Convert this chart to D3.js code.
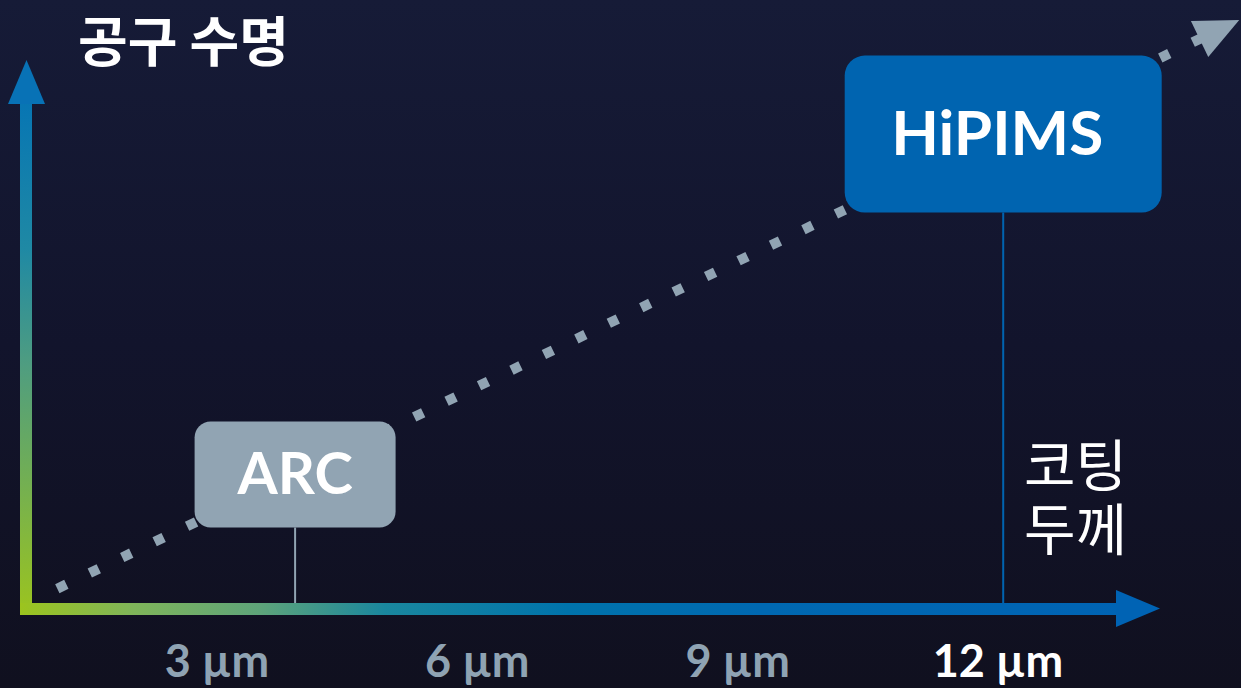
<!DOCTYPE html>
<html>
<head>
<meta charset="utf-8">
<script src="https://cdn.jsdelivr.net/npm/d3@7"></script>
<style>
  body { margin: 0; background: #11111f; }
  svg { display: block; }
</style>
</head>
<body>
<div id="chart"></div>
<script>
const width = 1241;
const height = 688;

// Axis ticks (coating thickness)
const tickValues = [3, 6, 9, 12];
const tickLabels = ["3 µm", "6 µm", "9 µm", "12 µm"];
const highlightTick = 12;

// Coating processes: thickness (µm) and relative tool life
const processNames = ["ARC", "HiPIMS"];
const processThickness = [3.9, 12.06];
const processLife = [24.5, 86.5];

// Dotted trend (start -> arrow tip)
const trendThickness = [1.16, 14.78];
const trendLife = [3.7, 107.3];

const svg = d3.select("#chart").append("svg")
  .attr("width", width)
  .attr("height", height);

const defs = svg.append("defs");

// background gradient
const bg = defs.append("linearGradient").attr("id", "bg")
  .attr("x1", 0).attr("y1", 0).attr("x2", 0).attr("y2", 1);
bg.append("stop").attr("offset", 0).attr("stop-color", "#161b37");
bg.append("stop").attr("offset", 0.5).attr("stop-color", "#12142c");
bg.append("stop").attr("offset", 1).attr("stop-color", "#10101f");

svg.append("rect").attr("width", width).attr("height", height).attr("fill", "url(#bg)");

// Scales
const x = d3.scaleLinear().domain([3, 12]).range([217, 998]);
const y = d3.scaleLinear().domain([0, 100]).range([609, 60]);

const axisX0 = 26;   // vertical axis position
const axisY0 = 609;  // horizontal axis position

// axis gradients (userSpaceOnUse)
const gv = defs.append("linearGradient").attr("id", "gv")
  .attr("gradientUnits", "userSpaceOnUse")
  .attr("x1", 0).attr("y1", 615).attr("x2", 0).attr("y2", 60);
[[0, "#9cc41e"], [0.45, "#4f9d80"], [0.66, "#1f89a4"], [1, "#0070b8"]]
  .forEach(s => gv.append("stop").attr("offset", s[0]).attr("stop-color", s[1]));

const gh = defs.append("linearGradient").attr("id", "gh")
  .attr("gradientUnits", "userSpaceOnUse")
  .attr("x1", 20).attr("y1", 0).attr("x2", 1160).attr("y2", 0);
[[0, "#9cc41e"], [0.1, "#7fb55a"], [0.21, "#5ea47a"], [0.32, "#1a879e"], [0.48, "#0073ab"], [0.65, "#0068b1"], [1, "#0063b4"]]
  .forEach(s => gh.append("stop").attr("offset", s[0]).attr("stop-color", s[1]));

// Dotted trend line with arrow
const p0 = [x(trendThickness[0]), y(trendLife[0])];
const p1 = [x(trendThickness[1]), y(trendLife[1])];
const ang = Math.atan2(p1[1] - p0[1], p1[0] - p0[0]);
const headLen = 44, headHalf = 20;
const base = [p1[0] - headLen * Math.cos(ang), p1[1] - headLen * Math.sin(ang)];

svg.append("line")
  .attr("x1", p0[0]).attr("y1", p0[1])
  .attr("x2", base[0] + 10 * Math.cos(ang)).attr("y2", base[1] + 10 * Math.sin(ang))
  .attr("stroke", "#91a4b3")
  .attr("stroke-width", 10)
  .attr("stroke-dasharray", "10 26");

svg.append("polygon")
  .attr("points", [
    p1,
    [base[0] - headHalf * Math.sin(ang), base[1] + headHalf * Math.cos(ang)],
    [base[0] + headHalf * Math.sin(ang), base[1] - headHalf * Math.cos(ang)]
  ].map(p => p.join(",")).join(" "))
  .attr("fill", "#91a4b3");

// Process boxes
const boxW = [201, 317], boxH = [106, 157], boxR = [16, 20];
const boxFill = ["#91a4b3", "#0064b0"];
const boxFont = [58, 62];
const textShift = [0, -6];

const procs = processNames.map((name, i) => ({
  name, t: processThickness[i], life: processLife[i],
  w: boxW[i], h: boxH[i], r: boxR[i], fill: boxFill[i], fs: boxFont[i], dx: textShift[i]
}));

const g = svg.append("g");

g.selectAll("line.stem")
  .data(procs)
  .join("line")
  .attr("class", "stem")
  .attr("x1", d => x(d.t)).attr("x2", d => x(d.t))
  .attr("y1", d => y(d.life) + d.h / 2)
  .attr("y2", axisY0 - 6)
  .attr("stroke", d => d.fill)
  .attr("stroke-width", 2);

g.selectAll("rect.box")
  .data(procs)
  .join("rect")
  .attr("class", "box")
  .attr("x", d => x(d.t) - d.w / 2)
  .attr("y", d => y(d.life) - d.h / 2)
  .attr("width", d => d.w)
  .attr("height", d => d.h)
  .attr("rx", d => d.r)
  .attr("fill", d => d.fill);

g.selectAll("text.name")
  .data(procs)
  .join("text")
  .attr("class", "name")
  .attr("x", d => x(d.t) + d.dx)
  .attr("y", d => y(d.life) + d.fs * 0.33)
  .attr("text-anchor", "middle")
  .attr("font-family", "Lato, 'Open Sans', sans-serif")
  .attr("font-weight", 700)
  .attr("font-size", d => d.fs)
  .attr("fill", "#fff")
  .text(d => d.name);

// Axes
svg.append("rect")
  .attr("x", axisX0 - 6).attr("y", 100)
  .attr("width", 12).attr("height", axisY0 + 6 - 100)
  .attr("fill", "url(#gv)");
svg.append("polygon")
  .attr("points", `${axisX0 - 18},104 ${axisX0 + 19},104 ${axisX0 + 0.5},60`)
  .attr("fill", "#0872b6");

svg.append("rect")
  .attr("x", axisX0 - 6).attr("y", axisY0 - 6)
  .attr("width", 1120 - (axisX0 - 6)).attr("height", 12)
  .attr("fill", "url(#gh)");
svg.append("polygon")
  .attr("points", `1116,590 1116,627 1160,608.5`)
  .attr("fill", "#0063b4");

// Tick labels
svg.append("g")
  .selectAll("text")
  .data(tickValues)
  .join("text")
  .attr("x", d => x(d))
  .attr("y", 677)
  .attr("text-anchor", "middle")
  .attr("font-family", "Lato, 'Open Sans', sans-serif")
  .attr("font-weight", 700)
  .attr("font-size", 45)
  .attr("fill", d => d === highlightTick ? "#ffffff" : "#8fa3b3")
  .text((d, i) => tickLabels[i]);

// Axis titles
svg.append("text")
  .attr("x", 78).attr("y", 62)
  .attr("font-family", "'Noto Sans CJK KR', sans-serif")
  .attr("font-weight", 700)
  .attr("font-size", 54)
  .attr("fill", "#fff")
  .text("공구 수명");

const xTitle = svg.append("text")
  .attr("font-family", "'Noto Sans CJK KR', sans-serif")
  .attr("font-weight", 400)
  .attr("font-size", 56)
  .attr("fill", "#fff");
["코팅", "두께"].forEach((t, i) => {
  xTitle.append("tspan").attr("x", 1024).attr("y", 486 + i * 64).text(t);
});
</script>
</body>
</html>
